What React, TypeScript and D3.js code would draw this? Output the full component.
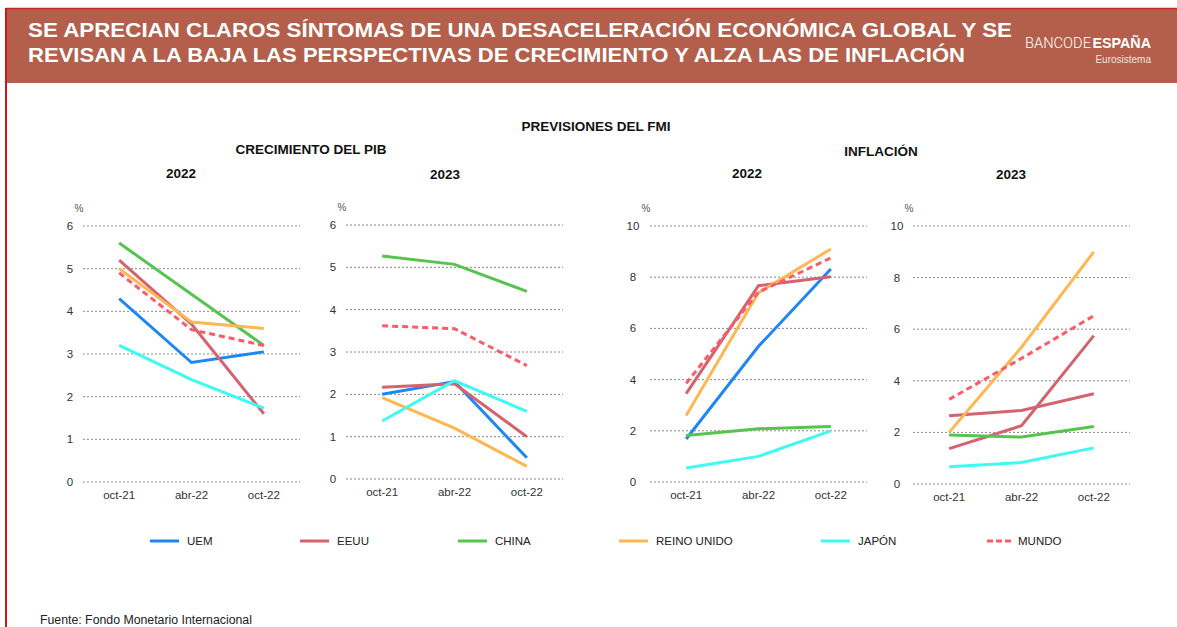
import React, { useEffect, useRef } from 'react';
import * as d3 from 'd3';

const categories = ['oct-21', 'abr-22', 'oct-22'];
const seriesNames = ['UEM', 'EEUU', 'CHINA', 'REINO UNIDO', 'JAPÓN', 'MUNDO'];

// crecimiento del PIB (%), mismo orden que seriesNames
const pib2022 = [
  [4.3, 2.8, 3.05],
  [5.2, 3.7, 1.6],
  [5.6, 4.4, 3.2],
  [5.0, 3.75, 3.6],
  [3.2, 2.4, 1.73],
  [4.9, 3.57, 3.2],
];
const pib2023 = [
  [2.0, 2.3, 0.5],
  [2.17, 2.25, 1.0],
  [5.27, 5.07, 4.43],
  [1.92, 1.2, 0.3],
  [1.37, 2.32, 1.6],
  [3.62, 3.55, 2.68],
];

// inflación (%)
const infl2022 = [
  [1.68, 5.3, 8.32],
  [3.45, 7.67, 8.02],
  [1.82, 2.08, 2.17],
  [2.6, 7.4, 9.1],
  [0.55, 1.0, 2.0],
  [3.85, 7.42, 8.75],
];
const infl2023 = [
  [1.37, 2.26, 5.75],
  [2.65, 2.85, 3.5],
  [1.9, 1.82, 2.23],
  [2.0, 5.3, 9.0],
  [0.67, 0.83, 1.4],
  [3.28, 4.87, 6.52],
];

const pibTicks = [0, 1, 2, 3, 4, 5, 6];
const inflTicks = [0, 2, 4, 6, 8, 10];

const colors = ['#1f87f2', '#d5636f', '#56c44e', '#ffb751', '#3ff9f3', '#ff5a68'];
const FONT = '"Liberation Sans", Arial, Helvetica, sans-serif';

interface Panel {
  values: number[][];
  ticks: number[];
  left: number;
  top: number;
  bottom: number;
  labelX: number;
  colorOverride?: Record<number, string>;
}

const panels: Panel[] = [
  { values: pib2022, ticks: pibTicks, left: 83, top: 226, bottom: 482, labelX: 70 },
  { values: pib2023, ticks: pibTicks, left: 346, top: 225, bottom: 479, labelX: 333 },
  { values: infl2022, ticks: inflTicks, left: 650, top: 226, bottom: 482, labelX: 633 },
  // en el original la UEM aparece con el color de EEUU
  { values: infl2023, ticks: inflTicks, left: 913, top: 226, bottom: 484, labelX: 897, colorOverride: { 0: colors[1] } },
];

const App: React.FC = () => {
  const svgRef = useRef<SVGSVGElement | null>(null);

  useEffect(() => {
    if (!svgRef.current) return;
    const svg = d3.select(svgRef.current);
    svg.selectAll('*').remove();

    // cabecera
    svg.append('rect').attr('x', 6).attr('y', 8).attr('width', 1171).attr('height', 75).attr('fill', '#b35f4b');
    svg.append('line').attr('x1', 6).attr('x2', 1177).attr('y1', 8.5).attr('y2', 8.5).attr('stroke', '#c8262a').attr('stroke-width', 1.5);
    svg.append('line').attr('x1', 6).attr('x2', 6).attr('y1', 8).attr('y2', 627).attr('stroke', '#d0161b').attr('stroke-width', 2);

    const titleLines = [
      'SE APRECIAN CLAROS SÍNTOMAS DE UNA DESACELERACIÓN ECONÓMICA GLOBAL Y SE',
      'REVISAN A LA BAJA LAS PERSPECTIVAS DE CRECIMIENTO Y ALZA LAS DE INFLACIÓN',
    ];
    const titleWidths = [984, 937];
    titleLines.forEach((t, i) => {
      svg
        .append('text')
        .attr('x', 28)
        .attr('y', 37 + i * 25)
        .attr('fill', '#fff')
        .attr('font-family', FONT)
        .attr('font-weight', 'bold')
        .attr('font-size', 21)
        .attr('textLength', titleWidths[i])
        .attr('lengthAdjust', 'spacingAndGlyphs')
        .text(t);
    });

    svg
      .append('text')
      .attr('x', 1025)
      .attr('y', 48)
      .attr('fill', '#fff')
      .attr('font-family', 'Roboto, ' + FONT)
      .attr('font-weight', 300)
      .attr('font-size', 14)
      .attr('textLength', 66)
      .attr('lengthAdjust', 'spacingAndGlyphs')
      .text('BANCODE');
    svg
      .append('text')
      .attr('x', 1151)
      .attr('y', 48)
      .attr('text-anchor', 'end')
      .attr('fill', '#fff')
      .attr('font-family', FONT)
      .attr('font-weight', 'bold')
      .attr('font-size', 14.3)
      .text('ESPAÑA');
    svg
      .append('text')
      .attr('x', 1151)
      .attr('y', 63)
      .attr('text-anchor', 'end')
      .attr('fill', '#f3e3de')
      .attr('font-family', FONT)
      .attr('font-size', 10)
      .text('Eurosistema');

    // títulos
    const heads: [string, number, number][] = [
      ['PREVISIONES DEL FMI', 596, 131],
      ['CRECIMIENTO DEL PIB', 311, 154],
      ['INFLACIÓN', 881, 156],
      ['2022', 181, 178],
      ['2023', 445, 179],
      ['2022', 747, 178],
      ['2023', 1011, 179],
    ];
    heads.forEach(([t, x, y]) => {
      svg
        .append('text')
        .attr('x', x)
        .attr('y', y)
        .attr('text-anchor', 'middle')
        .attr('font-family', FONT)
        .attr('font-weight', 'bold')
        .attr('font-size', 13.5)
        .attr('fill', '#111')
        .text(t);
    });

    // paneles
    panels.forEach((p) => {
      const w = 217;
      const x = d3.scalePoint<string>().domain(categories).range([p.left, p.left + w]).padding(0.5);
      const y = d3
        .scaleLinear()
        .domain([0, d3.max(p.ticks)!])
        .range([p.bottom, p.top]);

      const g = svg.append('g');

      g.selectAll('line.grid')
        .data(p.ticks)
        .enter()
        .append('line')
        .attr('class', 'grid')
        .attr('x1', p.left)
        .attr('x2', p.left + w)
        .attr('y1', (d) => y(d))
        .attr('y2', (d) => y(d))
        .attr('stroke', '#8a8a8a')
        .attr('stroke-width', 1)
        .attr('stroke-dasharray', '2,2');

      g.selectAll('text.ytick')
        .data(p.ticks)
        .enter()
        .append('text')
        .attr('class', 'ytick')
        .attr('x', p.labelX)
        .attr('y', (d) => y(d) + 4)
        .attr('text-anchor', 'middle')
        .attr('font-family', FONT)
        .attr('font-size', 11.5)
        .attr('fill', '#333')
        .text((d) => d);

      g.append('text')
        .attr('x', p.left - 4)
        .attr('y', p.top - 14)
        .attr('text-anchor', 'middle')
        .attr('font-family', FONT)
        .attr('font-size', 10)
        .attr('fill', '#555')
        .text('%');

      g.selectAll('text.xtick')
        .data(categories)
        .enter()
        .append('text')
        .attr('class', 'xtick')
        .attr('x', (d) => x(d)!)
        .attr('y', p.bottom + 17)
        .attr('text-anchor', 'middle')
        .attr('font-family', FONT)
        .attr('font-size', 11.5)
        .attr('fill', '#333')
        .text((d) => d);

      const line = d3
        .line<number>()
        .x((_, i) => x(categories[i])!)
        .y((d) => y(d));

      p.values.forEach((vals, i) => {
        g.append('path')
          .datum(vals)
          .attr('fill', 'none')
          .attr('stroke', p.colorOverride?.[i] ?? colors[i])
          .attr('stroke-width', 3)
          .attr('stroke-dasharray', seriesNames[i] === 'MUNDO' ? '6,4' : null)
          .attr('d', line);
      });
    });

    // leyenda
    const legendX = [150, 300, 458, 619, 821, 987];
    seriesNames.forEach((name, i) => {
      const lg = svg.append('g').attr('transform', `translate(${legendX[i]}, 541)`);
      lg.append('line')
        .attr('x1', 0)
        .attr('x2', i === 5 ? 24 : 29)
        .attr('stroke', colors[i])
        .attr('stroke-width', 3)
        .attr('stroke-dasharray', i === 5 ? '6,3' : null);
      lg.append('text')
        .attr('x', i === 5 ? 31 : 37)
        .attr('y', 4)
        .attr('font-family', FONT)
        .attr('font-size', 11.5)
        .attr('fill', '#222')
        .text(name);
    });

    svg
      .append('text')
      .attr('x', 40)
      .attr('y', 624)
      .attr('font-family', FONT)
      .attr('font-size', 12.3)
      .attr('fill', '#222')
      .text('Fuente: Fondo Monetario Internacional');
  }, []);

  return (
    <svg
      ref={svgRef}
      width={1177}
      height={627}
      style={{ position: 'absolute', left: 0, top: 0, background: '#fff' }}
    ></svg>
  );
};

export default App;
